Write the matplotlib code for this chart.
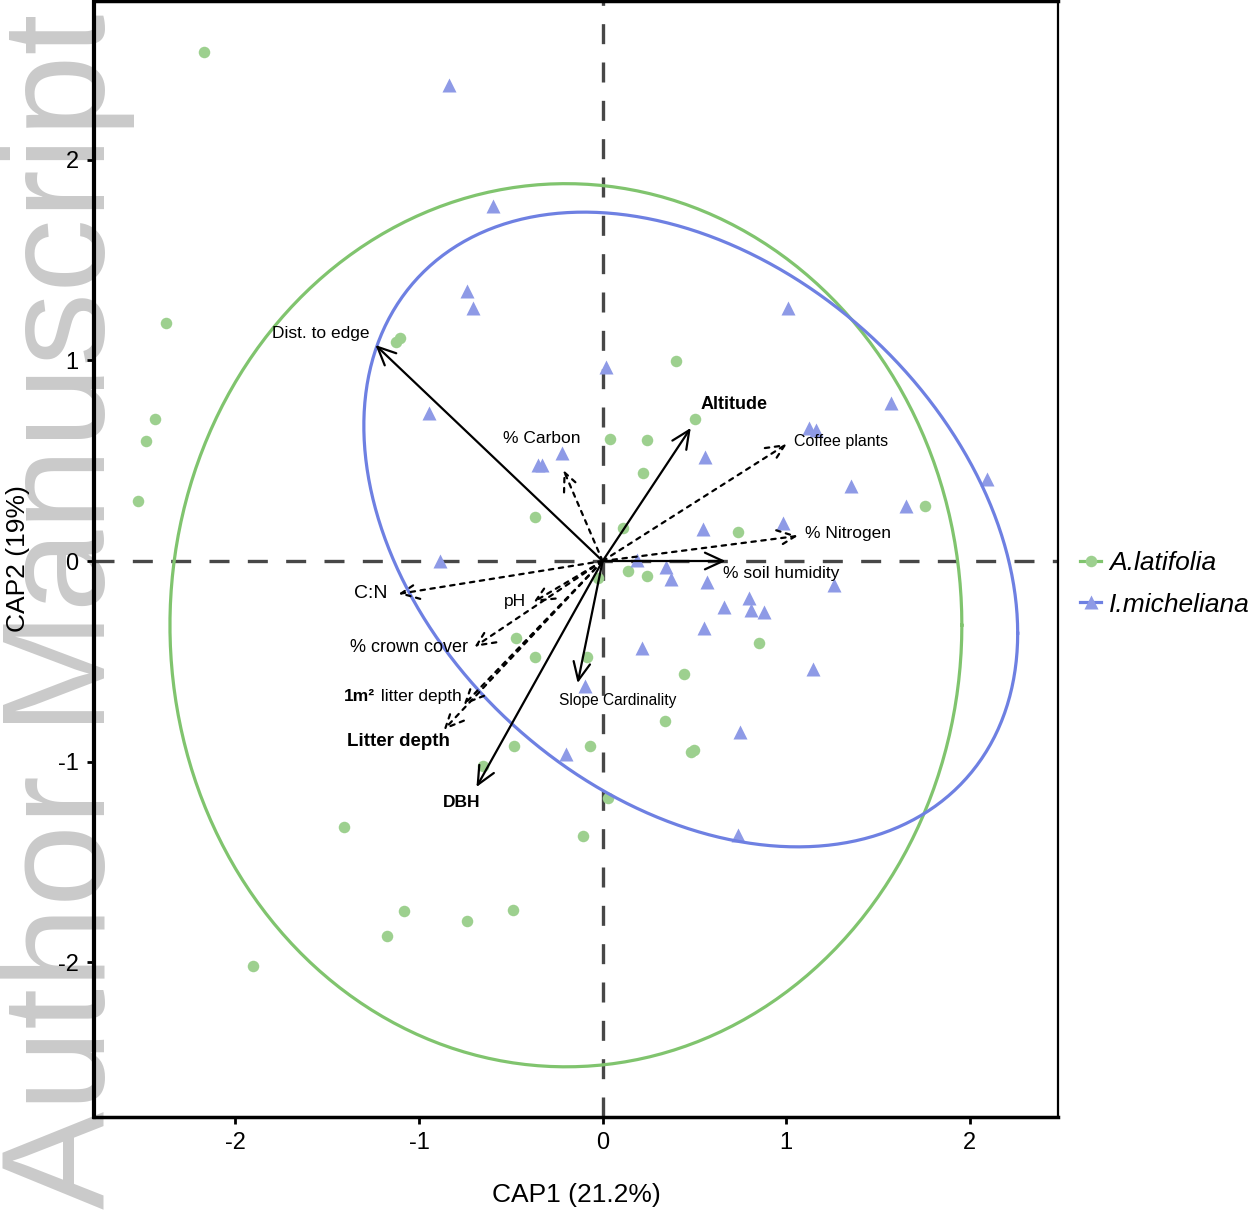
import numpy as np
import matplotlib
matplotlib.use("Agg")
import matplotlib.pyplot as plt
from matplotlib.lines import Line2D

plt.rcParams["axes.unicode_minus"] = False

# A.latifolia sites (circles)
lat_x = [-2.169, -2.376, -2.436, -2.485, -2.529, -1.123, -1.106, 0.398, 0.501, 0.038,
         0.240, 0.218, -0.371, 0.109, 0.736, 1.755, 0.136, 0.240, -0.027, -0.474,
         -0.371, -0.087, 0.441, 0.338, 0.480, 0.496, -0.485, -0.071, -0.649, 0.027,
         -1.406, -0.109, 0.850, -1.084, -1.172, -0.736, -0.490, -1.902]
lat_y = [2.536, 1.186, 0.708, 0.598, 0.299, 1.091, 1.111, 0.997, 0.708, 0.608,
         0.603, 0.438, 0.219, 0.164, 0.144, 0.274, -0.050, -0.075, -0.085, -0.384,
         -0.478, -0.478, -0.563, -0.797, -0.951, -0.941, -0.922, -0.922, -1.021, -1.181,
         -1.325, -1.370, -0.408, -1.743, -1.868, -1.793, -1.738, -2.017]

# I.micheliana sites (triangles)
mic_x = [-0.839, -0.599, -0.736, -0.708, 0.016, -0.943, -0.354, -0.332, -0.223, 0.556,
         1.008, 1.123, 1.161, 1.569, 1.351, 1.651, 2.093, 0.545, 0.981, -0.888,
         0.185, 0.343, 0.371, 0.567, 1.259, 0.659, 0.796, 0.807, 0.877, 0.550,
         0.213, 1.144, 0.747, -0.098, -0.202, 0.736]
mic_y = [2.371, 1.768, 1.345, 1.260, 0.966, 0.737, 0.478, 0.478, 0.538, 0.518,
         1.260, 0.663, 0.653, 0.787, 0.374, 0.274, 0.408, 0.159, 0.189, 0.000,
         0.005, -0.030, -0.090, -0.105, -0.120, -0.229, -0.184, -0.244, -0.254, -0.334,
         -0.433, -0.538, -0.852, -0.623, -0.961, -1.365]

# ellipses: centre + shape matrix
lat_ell_c = [-0.20, -0.32]
lat_ell_m = [[4.65, 0.0], [0.0, 4.84]]
mic_ell_c = [0.48, 0.157]
mic_ell_m = [[3.17, -0.92], [-0.92, 2.50]]

# environmental vectors
vec_names = ["Dist. to edge", "Altitude", "% soil humidity", "Slope Cardinality", "DBH",
             "% Carbon", "Coffee plants", "% Nitrogen", "C:N", "pH",
             "% crown cover", "1m2 litter depth", "Litter depth"]
vec_x = [-1.237, 0.480, 0.670, -0.136, -0.687, -0.213, 1.003, 1.063, -1.112, -0.376,
         -0.698, -0.757, -0.866]
vec_y = [1.076, 0.663, 0.0, -0.608, -1.126, 0.453, 0.583, 0.125, -0.164, -0.204,
         -0.428, -0.717, -0.842]
vec_dotted = [False, False, False, False, False, True, True, True, True, True, True, True, True]
lab_x = [-1.537, 0.714, 0.970, 0.082, -0.768, -0.332, 1.297, 1.335, -1.264, -0.480,
         -1.057, -1.232, -1.112]
lab_y = [1.131, 0.782, -0.060, -0.697, -1.205, 0.608, 0.593, 0.139, -0.164, -0.204,
         -0.433, -0.677, -0.897]
lab_bold = [False, True, False, False, True, False, False, False, False, False,
            False, False, True]

GREEN_PT = "#9dd08f"
GREEN_LN = "#80c46e"
BLUE_PT = "#8e9ae6"
BLUE_LN = "#6e80e2"
SANS = ["Liberation Sans", "DejaVu Sans"]
LABEL_SIZE = {"Coffee plants": 11.5, "Slope Cardinality": 11.2, "C:N": 14,
              "Altitude": 13, "Litter depth": 13.5, "DBH": 12.5, "% crown cover": 13}


def ellipse_xy(c, m, n=200):
    t = np.linspace(0, 2 * np.pi, n)
    L = np.linalg.cholesky(np.array(m))
    p = L @ np.vstack([np.cos(t), np.sin(t)])
    return c[0] + p[0], c[1] + p[1]


fig = plt.figure(figsize=(12.48, 12.16), dpi=100)
ax = fig.add_axes([94 / 1248, 99 / 1216, 964 / 1248, 1116 / 1216])
ax.patch.set_alpha(0)

# watermark behind the panel
fig.text(0.054, 0.497, "Author Manuscript", rotation=90, ha="center", va="center",
         fontsize=106, color="#cacaca", family=SANS, zorder=-5)

ax.axhline(0, color="#474747", lw=2.4, ls=(0, (6, 5.5)), zorder=1)
ax.axvline(0, color="#474747", lw=2.4, ls=(0, (6, 5.5)), zorder=1)

ax.plot(lat_x, lat_y, "o", color=GREEN_PT, ms=8.3, mec="none", zorder=2)
ax.plot(mic_x, mic_y, "^", color=BLUE_PT, ms=10.5, mec="none", zorder=2)

ex, ey = ellipse_xy(lat_ell_c, lat_ell_m)
ax.plot(ex, ey, color=GREEN_LN, lw=2.3, zorder=3)
ex, ey = ellipse_xy(mic_ell_c, mic_ell_m)
ax.plot(ex, ey, color=BLUE_LN, lw=2.3, zorder=3)

for i, name in enumerate(vec_names):
    ls = (0, (2, 2.5)) if vec_dotted[i] else "-"
    ax.annotate("", xy=(vec_x[i], vec_y[i]), xytext=(0, 0),
                arrowprops=dict(arrowstyle="->,head_length=1.3,head_width=0.6",
                                color="black", lw=1.6, linestyle=ls,
                                shrinkA=0, shrinkB=0), zorder=4)
    if name == "1m2 litter depth":
        ax.text(lab_x[i], lab_y[i], " litter depth", ha="left", va="center",
                fontsize=12.5, family=SANS, zorder=5)
        ax.text(lab_x[i] - 0.005, lab_y[i], "1m\u00b2", ha="right", va="center",
                fontsize=12.5, fontweight="bold", family=SANS, zorder=5)
        continue
    ax.text(lab_x[i], lab_y[i], name, ha="center", va="center",
            fontsize=LABEL_SIZE.get(name, 12.5),
            fontweight="bold" if lab_bold[i] else "normal", family=SANS, zorder=5)

ax.set_xlim(-2.77, 2.48)
ax.set_ylim(-2.77, 2.79)
ax.set_xticks([-2, -1, 0, 1, 2])
ax.set_yticks([-2, -1, 0, 1, 2])
ax.tick_params(length=5, width=2, labelsize=17, pad=6)
for lab in ax.get_xticklabels() + ax.get_yticklabels():
    lab.set_family(SANS)
ax.spines["left"].set_linewidth(3)
ax.spines["bottom"].set_linewidth(2.5)
ax.spines["top"].set_linewidth(2.5)
ax.spines["right"].set_linewidth(1.6)

ax.set_xlabel("CAP1 (21.2%)", fontsize=19, family=SANS, labelpad=21)
ax.set_ylabel("CAP2 (19%)", fontsize=19, family=SANS, labelpad=20)

handles = [Line2D([], [], color=GREEN_LN, lw=2.3, marker="o", ms=8.3,
                  mfc=GREEN_PT, mec="none"),
           Line2D([], [], color=BLUE_LN, lw=2.3, marker="^", ms=10.5,
                  mfc=BLUE_PT, mec="none")]
fig.legend(handles, ["A.latifolia", "I.micheliana"], loc="center left",
           bbox_to_anchor=(1080 / 1248, (1216 - 584) / 1216), frameon=False,
           handlelength=0.8, handletextpad=0.3, labelspacing=0.65, borderpad=0,
           borderaxespad=0, prop=dict(family=SANS, style="italic", size=19))

fig.savefig("out.png", dpi=100, facecolor="white")
